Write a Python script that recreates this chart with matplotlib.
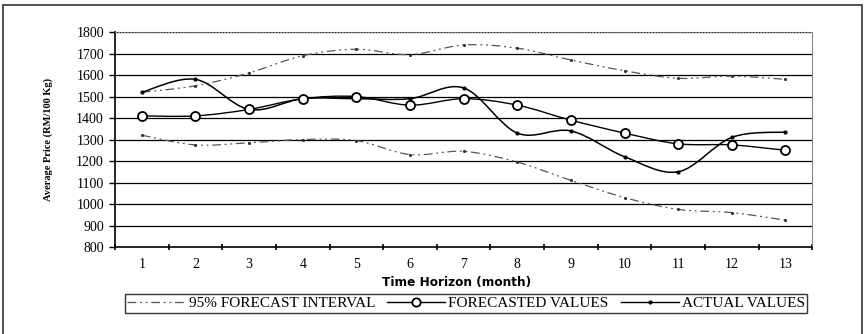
import matplotlib
matplotlib.use("Agg")
import matplotlib.pyplot as plt
from matplotlib.path import Path
from matplotlib.patches import PathPatch, Rectangle
from matplotlib.lines import Line2D
import numpy as np

plt.rcParams['font.family'] = ['Liberation Serif', 'DejaVu Serif']

months = list(range(1, 14))
upper = [1520, 1550, 1610, 1690, 1720, 1695, 1740, 1725, 1670, 1620, 1585, 1595, 1580]
lower = [1320, 1275, 1285, 1300, 1295, 1230, 1245, 1195, 1110, 1030, 975, 960, 925]
forecast = [1410, 1410, 1440, 1490, 1500, 1460, 1490, 1460, 1390, 1330, 1280, 1275, 1250]
actual = [1520, 1580, 1440, 1490, 1490, 1490, 1540, 1330, 1340, 1220, 1150, 1310, 1335]


def smooth_path(x, y, t=1 / 6):
    # cubic bezier through points (Excel-like smoothed line)
    x = np.asarray(x, float)
    y = np.asarray(y, float)
    verts = [(x[0], y[0])]
    codes = [Path.MOVETO]
    n = len(x)
    for i in range(n - 1):
        x0, y0 = (x[i - 1], y[i - 1]) if i > 0 else (x[i], y[i])
        x3, y3 = (x[i + 2], y[i + 2]) if i + 2 < n else (x[i + 1], y[i + 1])
        c1 = (x[i] + (x[i + 1] - x0) * t, y[i] + (y[i + 1] - y0) * t)
        c2 = (x[i + 1] - (x3 - x[i]) * t, y[i + 1] - (y3 - y[i]) * t)
        verts += [c1, c2, (x[i + 1], y[i + 1])]
        codes += [Path.CURVE4] * 3
    return Path(verts, codes)


dashdot = (0, (7, 3, 1.5, 3, 1.5, 3))

fig = plt.figure(figsize=(8.65, 3.34), dpi=100)
ax = fig.add_axes([0.133, 0.2605, 0.806, 0.6435])

# outer frame
fig.patches.append(Rectangle((0.004, -0.01), 0.993, 0.995, transform=fig.transFigure,
                             fill=False, edgecolor='#333333', linewidth=1.2))

for y in range(900, 1900, 100):
    ax.axhline(y, color='black', linewidth=0.9, zorder=1)

for series, style in [(upper, dict(color='#555555', linestyle=dashdot, linewidth=0.9)),
                      (lower, dict(color='#555555', linestyle=dashdot, linewidth=0.9)),
                      (actual, dict(color='black', linestyle='-', linewidth=1.1)),
                      (forecast, dict(color='black', linestyle='-', linewidth=1.0))]:
    ax.add_patch(PathPatch(smooth_path(months, series), fill=False, zorder=3, **style))

ax.plot(months, upper, linestyle='none', marker='.', markersize=2.5, color='#333333', zorder=4)
ax.plot(months, lower, linestyle='none', marker='.', markersize=2.5, color='#333333', zorder=4)
ax.plot(months, actual, linestyle='none', marker='.', markersize=4, color='black', zorder=4)
ax.plot(months, forecast, linestyle='none', marker='o', markersize=6.5, markerfacecolor='white',
        markeredgecolor='black', markeredgewidth=1.3, zorder=5)

ax.set_xlim(0.5, 13.5)
ax.set_ylim(800, 1800)
ax.set_yticks(range(800, 1900, 100))
ax.set_xticks(months)
ax.set_xticks(np.arange(0.5, 14, 1), minor=True)
ax.tick_params(axis='x', which='major', length=0, pad=8, labelsize=10)
ax.tick_params(axis='x', which='minor', length=4, direction='inout', width=1.2)
ax.tick_params(axis='y', length=4, width=1, labelsize=10, pad=4)

ax.spines['top'].set_color('#888888')
ax.spines['top'].set_linestyle(':')
ax.spines['right'].set_color('#888888')
ax.spines['right'].set_linewidth(0.8)
ax.spines['left'].set_linewidth(1.2)
ax.spines['bottom'].set_linewidth(1.2)

ax.set_xlabel('Time Horizon (month)', fontsize=8.7, fontweight='bold',
              family=['DejaVu Sans'])
ax.xaxis.set_label_coords(0.49, -0.135)
ax.set_ylabel('Average Price (RM/100 Kg)', fontsize=7.5, fontweight='bold', labelpad=17)

handles = [
    Line2D([], [], color='#555555', linestyle=dashdot, linewidth=0.9),
    Line2D([], [], color='black', marker='o', markersize=6, markerfacecolor='white',
           markeredgewidth=1.3, linewidth=1.0),
    Line2D([], [], color='black', marker='.', markersize=4, linewidth=1.0),
]
labels = ['95% FORECAST INTERVAL', 'FORECASTED VALUES', 'ACTUAL VALUES']
leg = fig.legend(handles, labels, loc='center', bbox_to_anchor=(0.539, 0.091), ncol=3,
                 frameon=True, fancybox=False, edgecolor='black', fontsize=11,
                 handlelength=3.8, handletextpad=0.2, columnspacing=0.8,
                 borderpad=0.15, borderaxespad=0)
leg.get_frame().set_linewidth(1.0)

fig.savefig('out.png', dpi=100)
